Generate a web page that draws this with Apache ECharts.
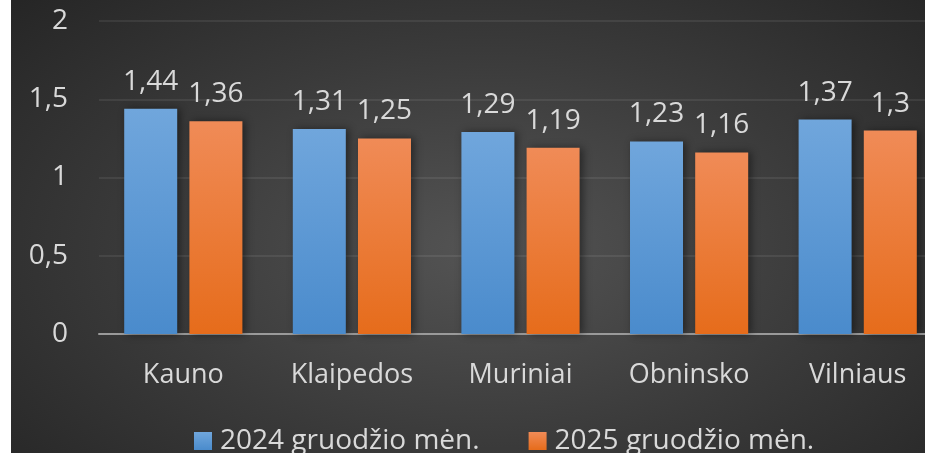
<!DOCTYPE html>
<html>
<head>
<meta charset="utf-8">
<script src="https://cdn.jsdelivr.net/npm/echarts@6/dist/echarts.min.js"></script>
<style>
  html, body { margin: 0; padding: 0; background: #fff; overflow: hidden; }
  #frame {
    position: absolute; left: 11px; top: 0;
    width: 914px; height: 453px; overflow: hidden;
    background: radial-gradient(ellipse 70% 80% at 52% 55%, #545454 0%, #3a3a3a 55%, #262626 100%);
  }
  #chart { position: absolute; left: 0; top: 0; width: 960px; height: 453px; }
</style>
</head>
<body>
<div id="frame"><div id="chart"></div></div>
<script>
const categories = ['Kauno', 'Klaipedos', 'Muriniai', 'Obninsko', 'Vilniaus']
const dec2024 = [1.44, 1.31, 1.29, 1.23, 1.37]
const dec2025 = [1.36, 1.25, 1.19, 1.16, 1.3]
const seriesNames = ['2024 gruodžio mėn.', '2025 gruodžio mėn.']

const txt = '#d9d9d9'
const font = '"Open Sans", "Noto Sans", sans-serif'
const comma = v => String(v).replace('.', ',')

const chart = echarts.init(document.getElementById('chart'))

const grad = (top, bottom) => new echarts.graphic.LinearGradient(0, 0, 0, 1, [
  { offset: 0, color: top },
  { offset: 1, color: bottom }
])

const barSeries = (name, data, top, bottom) => ({
  name,
  type: 'bar',
  data,
  barWidth: 53,
  barGap: '23%',
  itemStyle: {
    color: grad(top, bottom),
    shadowBlur: 8,
    shadowColor: 'rgba(0,0,0,0.45)',
    shadowOffsetX: 3
  },
  label: {
    show: true,
    position: 'top',
    distance: 13,
    color: txt,
    fontFamily: font,
    fontSize: 28,
    formatter: p => comma(p.value)
  }
})

chart.setOption({
  backgroundColor: 'transparent',
  animation: false,
  textStyle: { fontFamily: font },
  grid: { left: 88, top: 21, width: 843, height: 313 },
  legend: {
    left: 178,
    top: 422,
    itemWidth: 18,
    itemHeight: 18,
    itemGap: 49,
    icon: 'rect',
    textStyle: { color: txt, fontSize: 28, fontFamily: font, padding: [0, 0, 0, 3] },
    data: seriesNames
  },
  xAxis: {
    type: 'category',
    data: categories,
    axisTick: { show: false },
    axisLine: { lineStyle: { color: '#9a9a9a', width: 2 } },
    axisLabel: { color: txt, fontSize: 27, fontFamily: font, margin: 28 }
  },
  yAxis: {
    type: 'value',
    min: 0,
    max: 2,
    interval: 0.5,
    axisLine: { show: false },
    axisTick: { show: false },
    splitLine: { lineStyle: { color: 'rgba(255,255,255,0.1)', width: 1.5 } },
    axisLabel: { color: txt, fontSize: 28, fontFamily: font, margin: 31, formatter: comma }
  },
  series: [
    barSeries(seriesNames[0], dec2024, '#70a6dc', '#4a8bcc'),
    barSeries(seriesNames[1], dec2025, '#f08b57', '#e66c1b')
  ]
})
</script>
</body>
</html>
